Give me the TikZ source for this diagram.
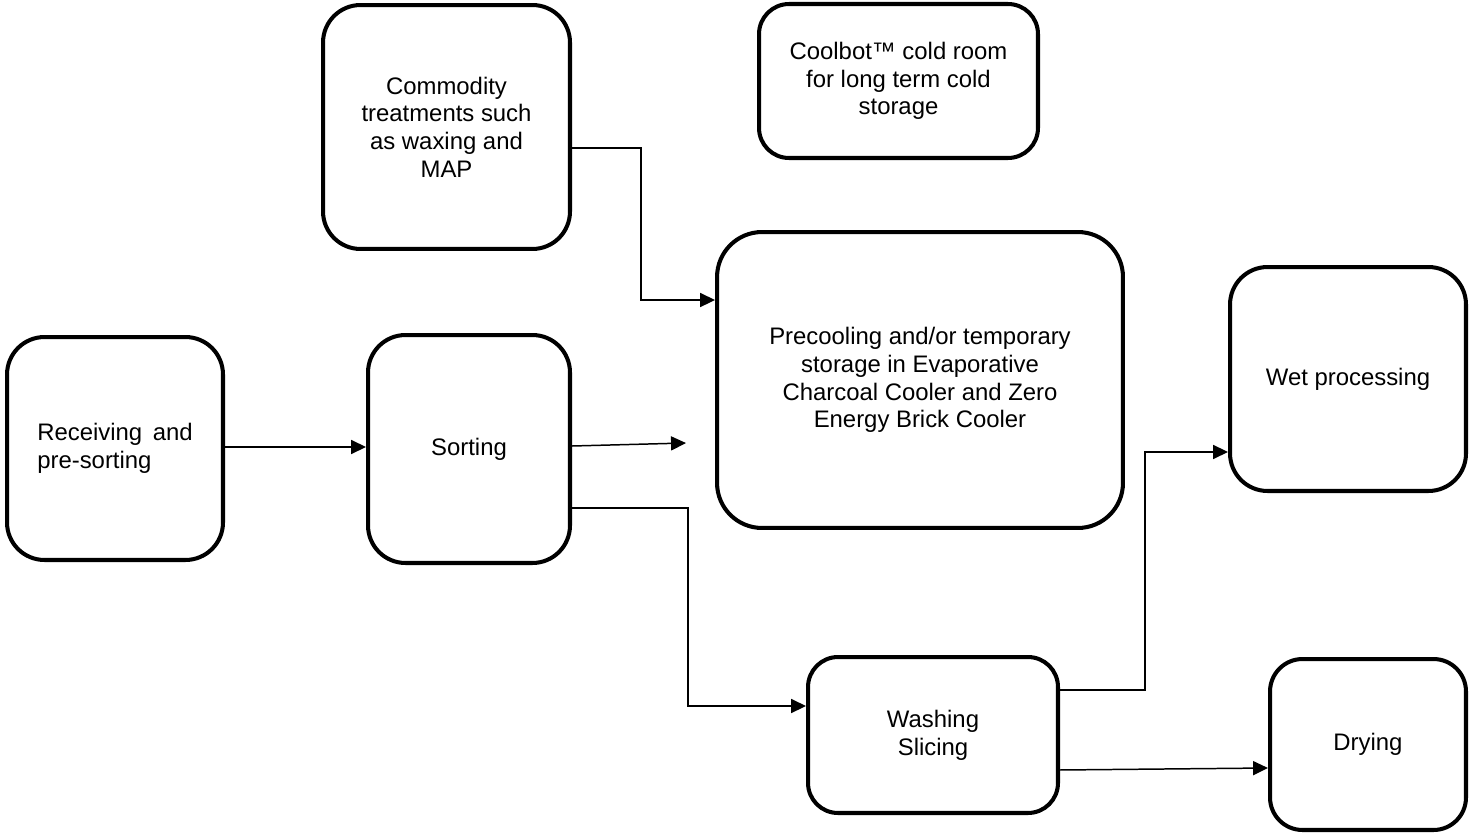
\documentclass[tikz,border=0pt]{standalone}
\usepackage{fontspec}
\setmainfont{Liberation Sans}
\usetikzlibrary{calc, arrows.meta, positioning}

\begin{document}
\begin{tikzpicture} [x=0.02cm, y=-0.02cm,
		% define styles
		basicnodestyle/.style={
			% The shape:
			rectangle,
			% The border:
			line width=2.3pt,
			draw=black,
			% Corners
			rounded corners=0.75cm,
			inner sep=0pt,
			% Font
			font=\fontsize{13.6}{15.8}\selectfont,
			align=center
		},
		arrow/.style={
			-{Triangle[length=8.5pt,width=8pt]},
			% Thickness
			line width=0.85pt,
			% Color
			black
		}]
		% end of style definition

		\useasboundingbox (0,0) rectangle (1470,838);

		% draw nodes
		\node (iReceiving) [basicnodestyle, minimum width=4.32cm, minimum height=4.46cm, align=left] at (115,448.5) {Receiving \,and\\pre-sorting};
		\node (iSorting) [basicnodestyle, minimum width=4.04cm, minimum height=4.56cm] at (469,449) {Sorting};
		\node (iTreatments) [basicnodestyle, minimum width=4.94cm, minimum height=4.88cm] at (446.5,127) {Commodity\\treatments such\\as waxing and\\MAP};
		\node (iColdRoom) [basicnodestyle, minimum width=5.58cm, minimum height=3.08cm, rounded corners=0.6cm] at (898.5,81) {Coolbot™ cold room\\for long term cold\\storage};
		\node (iPrecooling) [basicnodestyle, minimum width=8.12cm, minimum height=5.92cm, rounded corners=0.9cm] at (920,380) {Precooling and/or temporary\\storage in Evaporative\\Charcoal Cooler and Zero\\Energy Brick Cooler};
		\node (iWet) [basicnodestyle, minimum width=4.72cm, minimum height=4.48cm] at (1348,379) {Wet processing};
		\node (iWashing) [basicnodestyle, minimum width=5.0cm, minimum height=3.12cm, rounded corners=0.6cm] at (933,735) {Washing\\Slicing};
		\node (iDrying) [basicnodestyle, minimum width=3.92cm, minimum height=3.42cm, rounded corners=0.65cm] at (1368,744.5) {Drying};

		\coordinate (iLoose) at (686,443);

		% connect nodes
		\draw [arrow] (iReceiving.east |- 0,447) -- (iSorting.west |- 0,447);
		\draw [arrow] ([yshift=0.06cm]iSorting.east) -- (iLoose);
		\draw [arrow] ([yshift=-0.42cm]iTreatments.east) -- ++(69,0) |- ([yshift=1.6cm]iPrecooling.west);
		\draw [arrow] ([yshift=-1.18cm]iSorting.east) -- ++(116,0) |- ([yshift=0.58cm]iWashing.west);
		\draw [arrow] ([yshift=0.9cm]iWashing.east) -- ++(85,0) |- ([yshift=-1.46cm]iWet.west);
		\draw [arrow] ([yshift=-0.7cm]iWashing.east) -- ([yshift=-0.47cm]iDrying.west);
	\end{tikzpicture}
\end{document}
